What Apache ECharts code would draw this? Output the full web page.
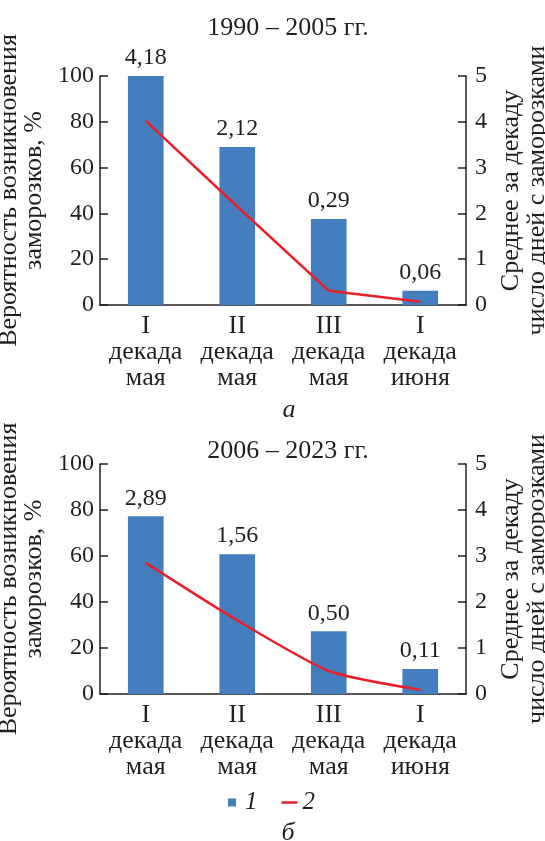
<!DOCTYPE html>
<html>
<head>
<meta charset="utf-8">
<script src="https://cdn.jsdelivr.net/npm/echarts@6/dist/echarts.min.js"></script>
<style>
  html, body { margin: 0; padding: 0; background: #fff; }
  #chart { width: 545px; height: 841px; }
</style>
</head>
<body>
<div id="chart"></div>
<script>
const categories = ['I\nдекада\nмая', 'II\nдекада\nмая', 'III\nдекада\nмая', 'I\nдекада\nиюня'];

// панель а: 1990–2005
const barA = [100, 69, 37.6, 6.2];
const lineA = [4.02, 2.15, 0.31, 0.07];
const labelsA = ['4,18', '2,12', '0,29', '0,06'];

// панель б: 2006–2023
const barB = [77.3, 60.8, 27.3, 10.9];
const lineB = [2.85, 1.6, 0.5, 0.09];
const labelsB = ['2,89', '1,56', '0,50', '0,11'];

const leftTicks = [0, 20, 40, 60, 80, 100];
const rightTicks = [0, 1, 2, 3, 4, 5];

const font = '"Liberation Serif", serif';
const ink = '#231f20';
const blue = '#447ebf';
const red = '#e8202a';

const myChart = echarts.init(document.querySelector('#chart'));

const txt = (extra = {}) => Object.assign({ fontFamily: font, fontSize: 24, color: ink, fontWeight: 'normal' }, extra);

const leftAxis = gridIndex => ({
  type: 'value',
  gridIndex,
  position: 'left',
  min: leftTicks[0],
  max: leftTicks[leftTicks.length - 1],
  interval: 20,
  name: 'Вероятность возникновения\nзаморозков, %',
  nameLocation: 'middle',
  nameRotate: 90,
  nameGap: 30,
  nameTextStyle: txt({ fontSize: 26, lineHeight: 25 }),
  axisLine: { show: true, lineStyle: { color: ink, width: 1.5 } },
  axisTick: { show: true, inside: true, length: 8, lineStyle: { color: ink, width: 1.5 } },
  axisLabel: txt({ margin: 6 }),
  splitLine: { show: false }
});

const rightAxis = gridIndex => ({
  type: 'value',
  gridIndex,
  position: 'right',
  min: rightTicks[0],
  max: rightTicks[rightTicks.length - 1],
  interval: 1,
  name: 'Среднее за декаду\nчисло дней с заморозками',
  nameLocation: 'middle',
  nameRotate: 90,
  nameGap: 19,
  nameTextStyle: txt({ fontSize: 26, lineHeight: 26 }),
  axisLine: { show: true, lineStyle: { color: ink, width: 1.5 } },
  axisTick: { show: true, inside: true, length: 8, lineStyle: { color: ink, width: 1.5 } },
  axisLabel: txt({ margin: 9 }),
  splitLine: { show: false }
});

const catAxis = gridIndex => ({
  type: 'category',
  gridIndex,
  data: categories,
  axisLine: { lineStyle: { color: ink, width: 1.5 } },
  axisTick: { show: false },
  axisLabel: txt({ fontSize: 26, lineHeight: 26, margin: 8, interval: 0 })
});

const barSeries = (idx, data, labels) => ({
  name: '1',
  type: 'bar',
  xAxisIndex: idx,
  yAxisIndex: idx * 2,
  data,
  barWidth: '39%',
  itemStyle: { color: blue },
  label: txt({
    show: true,
    position: 'top',
    distance: 6,
    formatter: p => labels[p.dataIndex]
  })
});

const lineSeries = (idx, data, smooth) => ({
  name: '2',
  type: 'line',
  xAxisIndex: idx,
  yAxisIndex: idx * 2 + 1,
  data,
  smooth,
  symbol: 'none',
  z: 5,
  lineStyle: { color: red, width: 2.5 },
  itemStyle: { color: red }
});

const option = {
  animation: false,
  textStyle: { fontFamily: font },
  title: [
    { text: '1990 – 2005 гг.', left: 283, top: 10, textAlign: 'center', textStyle: txt({ fontSize: 26 }) },
    { text: 'а', left: 284, top: 392, textAlign: 'center', textStyle: txt({ fontSize: 26, fontStyle: 'italic' }) },
    { text: '2006 – 2023 гг.', left: 283, top: 433, textAlign: 'center', textStyle: txt({ fontSize: 26 }) },
    { text: 'б', left: 283, top: 815, textAlign: 'center', textStyle: txt({ fontSize: 26, fontStyle: 'italic' }) }
  ],
  legend: {
    top: 785,
    left: 223,
    itemWidth: 16,
    itemHeight: 8,
    itemGap: 24,
    data: [
      { name: '1', icon: 'path://M0,0h8v8h-8z' },
      { name: '2', icon: 'path://M0,0h16v2.5h-16z' }
    ],
    textStyle: txt({ fontSize: 25, fontStyle: 'italic' })
  },
  grid: [
    { left: 100, right: 79, top: 76, height: 229, outerBoundsMode: 'none', containLabel: false },
    { left: 100, right: 79, top: 464, height: 230, outerBoundsMode: 'none', containLabel: false }
  ],
  xAxis: [catAxis(0), catAxis(1)],
  yAxis: [leftAxis(0), rightAxis(0), leftAxis(1), rightAxis(1)],
  series: [
    barSeries(0, barA, labelsA),
    lineSeries(0, lineA, false),
    barSeries(1, barB, labelsB),
    lineSeries(1, lineB, 0.2)
  ]
};

myChart.setOption(option);
</script>
</body>
</html>
